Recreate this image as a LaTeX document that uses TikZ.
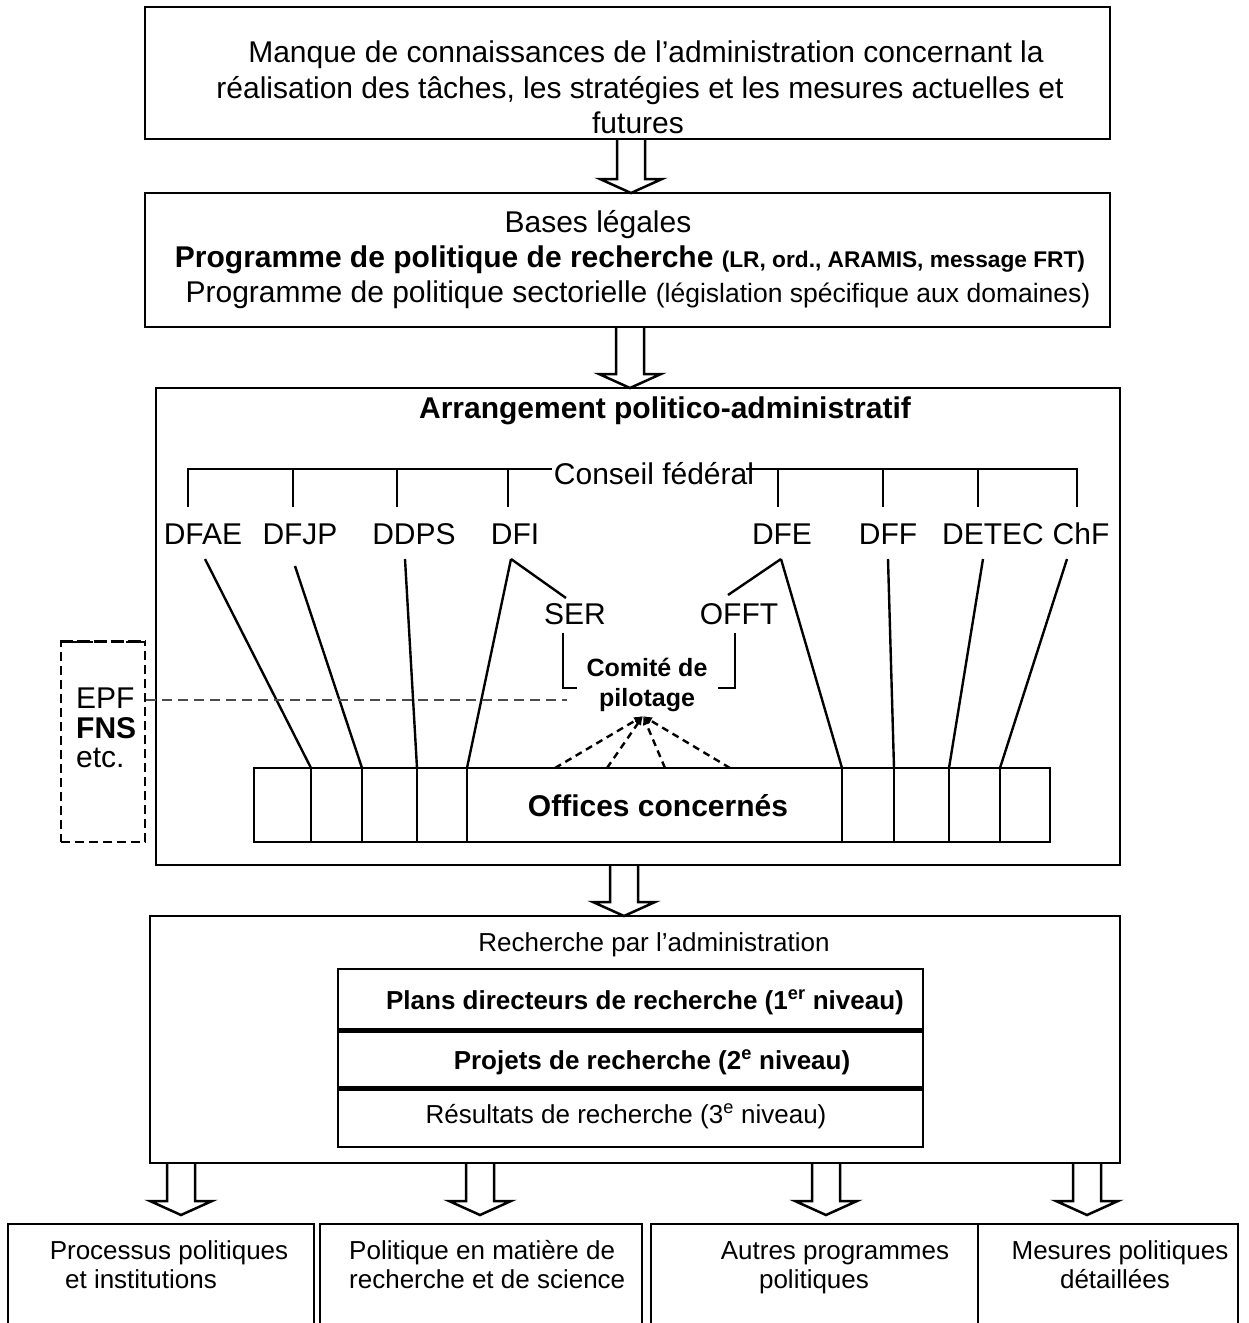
\documentclass[tikz,border=0pt]{standalone}
\usepackage{fontspec}
\setmainfont{Liberation Sans}
\usetikzlibrary{calc,arrows.meta}
\newcommand\blockarr[4]{%
  \draw[blk] let \p1=(#1), \p2=(#2) in
    (#3pt-14pt,\y1) -- (#3pt-14pt,\y2+#4pt+14pt) -- (#3pt-31pt,\y2+#4pt+14pt)
    -- (#3pt,\y2+#4pt) -- (#3pt+31pt,\y2+#4pt+14pt) -- (#3pt+14pt,\y2+#4pt+14pt)
    -- (#3pt+14pt,\y1);}
\begin{document}
\begin{tikzpicture}[x=1pt,y=-1pt,
  box/.style={draw,line width=2.5pt,rectangle,inner sep=0pt,outer sep=0pt},
  blk/.style={line width=2.5pt,line join=miter},
  ln/.style={line width=2.4pt},
  brk/.style={line width=2.6pt},
  txt/.style={inner sep=0pt,anchor=base,font=\fontsize{30}{36}\selectfont},
  txtb/.style={txt,font=\fontsize{30}{36}\selectfont\bfseries},
  sm/.style={txt,font=\fontsize{26}{31}\selectfont},
  smb/.style={txt,font=\fontsize{26}{31}\selectfont\bfseries},
  dsh/.style={dashed,dash pattern=on 7pt off 5pt,line width=2.4pt,-{Latex[length=9pt,width=8pt]}},
]
\useasboundingbox (0,0) rectangle (1249,1323);

% ---------- box 1
\node[box,minimum width=965,minimum height=132] (b1) at (627.5,73) {};
\node[txt] (b1l1) at (646,62) {Manque de connaissances de l’administration concernant la};
\node[txt] (b1l2) at (640,98) {réalisation des tâches, les stratégies et les mesures actuelles et};
\node[txt] (b1l3) at (638,133) {futures};

% ---------- box 2
\node[box,minimum width=965,minimum height=134] (b2) at (627.5,260) {};
\node[txt] (b2l1) at (598,232) {Bases légales};
\node[txtb] (b2l2) at (630,267) {Programme de politique de recherche {\fontsize{22.7}{27}\selectfont (LR, ord., ARAMIS, message FRT)}};
\node[txt] (b2l3) at (638,302) {Programme de politique sectorielle {\fontsize{26.5}{31}\selectfont (législation spécifique aux domaines)}};

% ---------- box 3
\node[box,minimum width=964,minimum height=477] (b3) at (638,626.5) {};
\node[txtb] (title3) at (665,418) {Arrangement politico-administratif};
\node[txt] (cf) at (654,484) {Conseil fédéral};
\coordinate (cfl) at (552,469);
\coordinate (cfr) at (746,469);
\coordinate (v1) at (188,507); \coordinate (v2) at (293,507);
\coordinate (v3) at (397,507); \coordinate (v4) at (508,507);
\coordinate (v5) at (778,507); \coordinate (v6) at (883,507);
\coordinate (v7) at (978,507); \coordinate (v8) at (1077,507);
\draw[brk] (v1) |- (cfl);
\draw[brk] (v8) |- (cfr);
\foreach \v in {v2,v3,v4} \draw[ln] (\v) -- (\v |- cfl);
\foreach \v in {v5,v6,v7} \draw[ln] (\v) -- (\v |- cfr);

\node[txt] (dfae) at (203,544) {DFAE};
\node[txt] (dfjp) at (300,544) {DFJP};
\node[txt] (ddps) at (414,544) {DDPS};
\node[txt] (dfi) at (515,544) {DFI};
\node[txt] (dfe) at (782,544) {DFE};
\node[txt] (dff) at (888,544) {DFF};
\node[txt] (detec) at (993,544) {DETEC};
\node[txt] (chf) at (1081,544) {ChF};

\node[txt] (ser) at (575,624) {SER};
\node[txt] (offt) at (739,624) {OFFT};

% offices box
\node[box,minimum width=796,minimum height=74] (office) at (652,805) {};
\node[txtb] (offtxt) at (658,816) {Offices concernés};

\coordinate (s1) at (205,559); \coordinate (s2) at (295,566);
\coordinate (s3) at (405,559); \coordinate (s4) at (511,559);
\coordinate (s5) at (781,559); \coordinate (s6) at (888,559);
\coordinate (s7) at (983,559); \coordinate (s8) at (1067,559);
\coordinate (d1) at (311,768); \coordinate (d2) at (362,768);
\coordinate (d3) at (417,768); \coordinate (d4) at (467,768);
\coordinate (d5) at (842,768); \coordinate (d6) at (894,768);
\coordinate (d7) at (949,768); \coordinate (d8) at (1000,768);
\foreach \i in {1,...,8} {
  \draw[ln] (s\i) -- (d\i);
  \draw[ln] (d\i) -- (d\i |- office.south);
}
\coordinate (ser-in) at (566,598);
\coordinate (offt-in) at (728,595);
\draw[ln] (s4) -- (ser-in);
\draw[ln] (s5) -- (offt-in);

% comite
\node[smb,font=\fontsize{25}{30}\selectfont\bfseries,align=center] (comite) at (647,706) {Comité de\\pilotage};
\draw[brk] (563,633) -- (563,688) -- (577,688);
\draw[brk] (735,633) -- (735,688) -- (718,688);

\coordinate (apex) at (643,716);
\coordinate (o1) at (555,768); \coordinate (o2) at (607,768);
\coordinate (o3) at (665,768); \coordinate (o4) at (730,768);
\foreach \o in {o1,o2,o3,o4} \draw[dsh] (\o) -- (apex);

% EPF box
\node[draw,dashed,dash pattern=on 9pt off 5pt,line width=1.3pt,minimum width=84,minimum height=200,inner sep=0pt] (epf) at (103,742) {};
\draw[line width=3.5pt,dash pattern=on 13pt off 4pt] (epf.north west) -- (epf.north east);
\node[txt,anchor=base west] (epf1) at (76,708) {EPF};
\node[txtb,anchor=base west] (epf2) at (76,738) {FNS};
\node[txt,anchor=base west] (epf3) at (76,767) {etc.};
\coordinate (dl) at (567,700);
\draw[line width=1.6pt,black!70,dash pattern=on 10pt off 6pt] (dl -| epf.east) -- (dl);

% ---------- box 4
\node[box,minimum width=970,minimum height=247] (b4) at (635,1039.5) {};
\node[sm] (b4t) at (654,951) {Recherche par l’administration};
\node[box,minimum width=585,minimum height=61] (r1) at (630.5,999.5) {};
\node[box,minimum width=585,minimum height=58] (r2) at (630.5,1059) {};
\node[box,minimum width=585,minimum height=59] (r3) at (630.5,1117.5) {};
\draw[line width=5pt] (r1.south west) -- (r1.south east);
\draw[line width=5pt] (r2.south west) -- (r2.south east);
\node[smb] (r1t) at (645,1009) {Plans directeurs de recherche (1\textsuperscript{er} niveau)};
\node[smb] (r2t) at (652,1069) {Projets de recherche (2\textsuperscript{e} niveau)};
\node[sm] (r3t) at (626,1123) {Résultats de recherche (3\textsuperscript{e} niveau)};

% ---------- bottom boxes
\draw[line width=2.5pt] (8,1330) |- (314,1224) -- (314,1330);
\draw[line width=2.5pt] (320,1330) |- (642,1224) -- (642,1330);
\draw[line width=2.5pt] (651,1330) |- (978,1224) -- (978,1330);
\draw[line width=2.5pt] (978,1224) -- (1238,1224) -- (1238,1330);
\coordinate (p1) at (181,1224); \coordinate (p2) at (480,1224);
\coordinate (p3) at (826,1224); \coordinate (p4) at (1087,1224);
\node[sm] (q1a) at (169,1259) {Processus politiques};
\node[sm] (q1b) at (141,1288) {et institutions};
\node[sm,anchor=base west] (q2a) at (349,1259) {Politique en matière de};
\node[sm,anchor=base west] (q2b) at (349,1288) {recherche et de science};
\node[sm] (q3a) at (835,1259) {Autres programmes};
\node[sm] (q3b) at (814,1288) {politiques};
\node[sm] (q4a) at (1120,1259) {Mesures politiques};
\node[sm] (q4b) at (1115,1288) {détaillées};

% ---------- block arrows
\blockarr{b1.south}{b2.north}{631}{0}
\blockarr{b2.south}{b3.north}{630}{0}
\blockarr{b3.south}{b4.north}{624}{0}
\blockarr{b4.south}{p1}{181}{9}
\blockarr{b4.south}{p2}{480}{9}
\blockarr{b4.south}{p3}{826}{9}
\blockarr{b4.south}{p4}{1087}{9}
\end{tikzpicture}
\end{document}
